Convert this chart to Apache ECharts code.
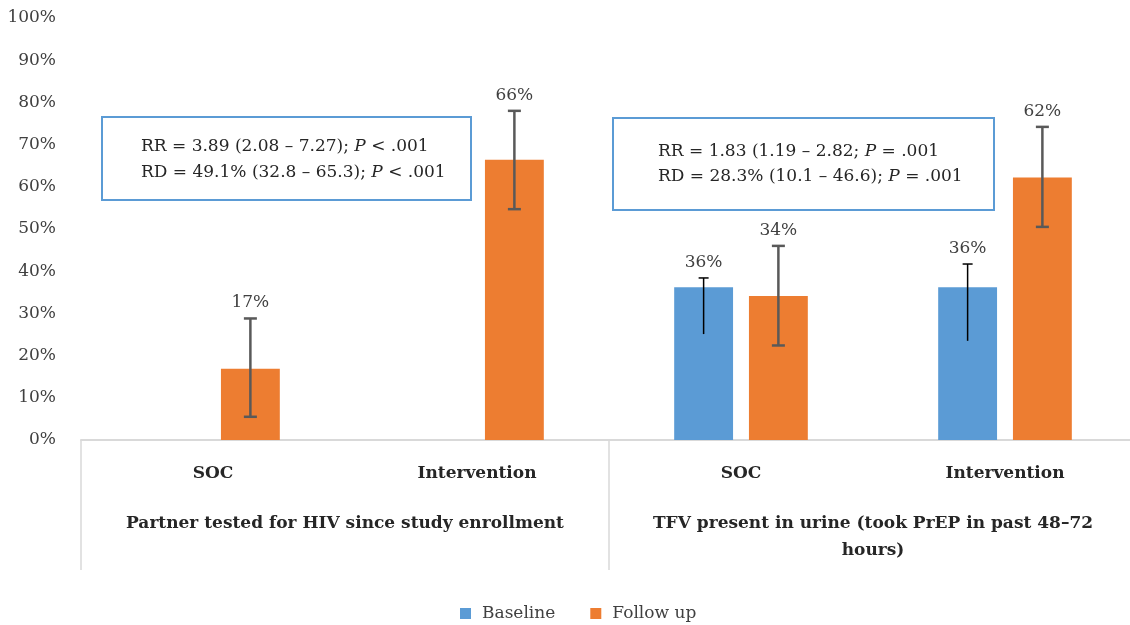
<!DOCTYPE html>
<html>
<head>
<meta charset="utf-8">
<script src="https://cdn.jsdelivr.net/npm/echarts@6/dist/echarts.min.js"></script>
<style>
  html, body { margin: 0; padding: 0; background: #fff; }
  #chart { width: 1130px; height: 625px; }
</style>
</head>
<body>
<div id="chart"></div>
<script>
/* Values */
const categories = ["SOC", "Intervention", "SOC", "Intervention"];
const groups = [
  "Partner tested for HIV since study enrollment",
  "TFV present in urine (took PrEP in past 48\u201372\nhours)",
];
const seriesNames = ["Baseline", "Follow up"];

const baseline = [null, null, 36.2, 36.2];
const followUp = [16.9, 66.4, 34.1, 62.2];

/* 95% CI bounds */
const baselineLow = [null, null, 25.1, 23.5];
const baselineHigh = [null, null, 38.4, 41.7];
const followLow = [5.5, 54.7, 22.4, 50.5];
const followHigh = [28.8, 78.0, 46.0, 74.2];

const yTicks = { min: 0, max: 100, interval: 10 };

const note1 = [
  "{a|RR = 3.89 (2.08 \u2013 7.27); }{p|P}{a| < .001}",
  "{a|RD = 49.1% (32.8 \u2013 65.3); }{p|P}{a| < .001}",
];
const note2 = [
  "{a|RR = 1.83 (1.19 \u2013 2.82; }{p|P}{a| = .001}",
  "{a|RD = 28.3% (10.1 \u2013 46.6); }{p|P}{a| = .001}",
];

const FONT = '"DejaVu Serif", serif';
const BLUE = "#5b9bd5";
const ORANGE = "#ed7d31";
const BAR_W = 0.223;   // fraction of the category band
const BAR_GAP = 0.27;  // fraction of bar width

function errData(low, high, val) {
  const out = [];
  for (let i = 0; i < val.length; i++) {
    if (val[i] == null) continue;
    out.push([i, low[i], high[i], val[i]]);
  }
  return out;
}

/* error bar + value label, sitting on the bar of one series */
function errorRenderer(side, color, width, cap, bottomCap) {
  return function (params, api) {
    const idx = api.value(0);
    const band = api.size([1, 0])[0];
    const bw = band * BAR_W;
    const off = side * (bw * (1 + BAR_GAP)) / 2;
    const top = api.coord([idx, api.value(2)]);
    const low = api.coord([idx, api.value(1)]);
    const x = top[0] + off;
    const style = { stroke: color, lineWidth: width };
    const children = [
      { type: "line", shape: { x1: x, y1: top[1], x2: x, y2: low[1] }, style: style },
      { type: "line", shape: { x1: x - cap, y1: top[1], x2: x + cap, y2: top[1] }, style: style },
    ];
    if (bottomCap) {
      children.push({ type: "line", shape: { x1: x - cap, y1: low[1], x2: x + cap, y2: low[1] }, style: style });
    }
    children.push({
      type: "text",
      style: {
        text: Math.round(api.value(3)) + "%",
        x: x,
        y: top[1] - 7,
        align: "center",
        verticalAlign: "bottom",
        font: "17px " + FONT,
        fill: "#404040",
      },
    });
    return { type: "group", children: children };
  };
}

function noteBox(x, y, w, h, lines, tx, ty, lh) {
  return {
    type: "group",
    children: [
      { type: "rect", shape: { x: x, y: y, width: w, height: h },
        style: { fill: "#fff", stroke: BLUE, lineWidth: 2 } },
      { type: "text", x: tx, y: ty,
        style: {
          text: lines.join("\n"),
          verticalAlign: "middle",
          lineHeight: lh,
          rich: {
            a: { fontFamily: FONT, fontSize: 17, fill: "#262626", lineHeight: lh },
            p: { fontFamily: FONT, fontSize: 17, fontStyle: "italic", fill: "#262626", lineHeight: lh },
          },
        } },
    ],
  };
}

const chart = echarts.init(document.getElementById("chart"), null, { renderer: "canvas" });

chart.setOption({
  animation: false,
  textStyle: { fontFamily: FONT },
  grid: { left: 81, top: 18, width: 1056, height: 422, outerBoundsMode: "none", containLabel: false },
  legend: {
    data: seriesNames,
    left: 455,
    top: 600,
    icon: "rect",
    itemWidth: 11,
    itemHeight: 11,
    itemGap: 35,
    textStyle: { fontFamily: FONT, fontSize: 17, color: "#404040", padding: [0, 0, 0, 6] },
  },
  xAxis: [
    {
      type: "category",
      data: categories,
      position: "bottom",
      axisLine: { lineStyle: { color: "#d9d9d9", width: 2 } },
      axisTick: { show: false },
      axisLabel: {
        interval: 0, margin: 24, lineHeight: 20,
        fontFamily: FONT, fontSize: 17, fontWeight: "bold", color: "#262626",
      },
    },
    {
      type: "category",
      data: groups,
      position: "bottom",
      offset: 0,
      axisLine: { show: false },
      axisTick: { show: true, interval: 0, length: 130, lineStyle: { color: "#d9d9d9", width: 1.5 } },
      axisLabel: {
        interval: 0, margin: 70, lineHeight: 27, align: "center",
        fontFamily: FONT, fontSize: 17, fontWeight: "bold", color: "#262626",
      },
    },
  ],
  yAxis: {
    type: "value",
    min: yTicks.min,
    max: yTicks.max,
    interval: yTicks.interval,
    axisLine: { show: false },
    axisTick: { show: false },
    splitLine: { show: false },
    axisLabel: {
      formatter: "{value}%", margin: 25,
      fontFamily: FONT, fontSize: 17, color: "#404040",
    },
  },
  series: [
    {
      name: seriesNames[0], type: "bar", data: baseline,
      barWidth: (BAR_W * 100) + "%", barGap: (BAR_GAP * 100) + "%",
      itemStyle: { color: BLUE },
    },
    {
      name: seriesNames[1], type: "bar", data: followUp,
      barWidth: (BAR_W * 100) + "%", barGap: (BAR_GAP * 100) + "%",
      itemStyle: { color: ORANGE },
    },
    {
      type: "custom", name: "baseline-ci",
      data: errData(baselineLow, baselineHigh, baseline),
      encode: { x: 0, y: [1, 2] },
      renderItem: errorRenderer(-1, "#000", 1.5, 5, false),
      z: 5,
    },
    {
      type: "custom", name: "followup-ci",
      data: errData(followLow, followHigh, followUp),
      encode: { x: 0, y: [1, 2] },
      renderItem: errorRenderer(1, "#595959", 2.5, 6.5, true),
      z: 5,
    },
  ],
  graphic: [
    noteBox(102, 117, 369, 83, note1, 141, 160, 26),
    noteBox(613, 118, 381, 92, note2, 658, 164.5, 25),
  ],
});
</script>
</body>
</html>
